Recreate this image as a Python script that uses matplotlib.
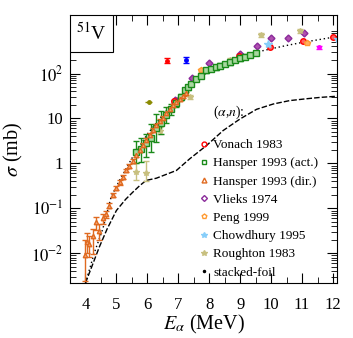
import matplotlib
matplotlib.use('Agg')
import matplotlib.pyplot as plt
from matplotlib.patches import Rectangle
import numpy as np

plt.rcParams['font.family'] = ['Liberation Serif', 'DejaVu Serif']
plt.rcParams['mathtext.fontset'] = 'stix'

# (alpha,gamma) model curve (dotted) and (alpha,n) curve (dashed)
ag_E = [4.0, 4.3, 4.56, 4.83, 5.1, 5.5, 6.0, 6.5, 7.0, 7.5, 8.0, 8.5, 9.0, 9.5, 10.0, 10.5, 11.0, 11.5, 12.0, 12.2]
ag_s = [0.0022, 0.011, 0.035, 0.18, 0.42, 1.3, 4.5, 12, 30, 62, 115, 175, 235, 295, 355, 420, 490, 560, 640, 670]
an_E = [4.0, 4.2, 4.45, 4.7, 5.0, 5.3, 5.53, 5.75, 5.96, 6.29, 6.94, 7.37, 7.91, 8.45, 9.0, 9.53, 10.07, 10.6, 11.15, 11.6, 12.2]
an_s = [0.0022, 0.005, 0.014, 0.035, 0.09, 0.16, 0.23, 0.32, 0.42, 0.47, 0.7, 1.27, 2.5, 5.4, 9.8, 16, 21, 25, 27.5, 29.5, 31.5]

# Hansper 1993 (dir.)
hd_E = [3.97, 4.05, 4.13, 4.24, 4.34, 4.45, 4.56, 4.67, 4.77, 4.88, 4.99, 5.10, 5.21, 5.31, 5.42,
        5.53, 5.64, 5.75, 5.86, 5.97, 6.07, 6.18, 6.29, 6.40, 6.50, 6.61, 6.72, 6.83, 6.94, 7.04, 7.15, 7.26]
hd_s = [0.009, 0.018, 0.016, 0.025, 0.05, 0.032, 0.062, 0.075, 0.115, 0.2, 0.29, 0.38, 0.5, 0.7, 0.9,
        1.15, 1.55, 2.0, 2.6, 3.3, 4.3, 5.5, 7.0, 8.7, 10.5, 13, 16, 19.5, 23, 27, 31, 36]
hd_lo = [0.0024, 0.01, 0.0085, 0.0095, 0.033, 0.02, 0.045, 0.06, 0.1, 0.18, 0.26, 0.34, 0.45, 0.63, 0.81,
         1.04, 1.4, 1.8, 2.35, 3.0, 3.9, 5.0, 6.3, 7.8, 9.5, 11.7, 14.4, 17.6, 20.7, 24.3, 27.9, 32.4]
hd_hi = [0.02, 0.028, 0.024, 0.035, 0.065, 0.045, 0.075, 0.09, 0.13, 0.22, 0.32, 0.42, 0.55, 0.77, 0.99,
         1.27, 1.7, 2.2, 2.85, 3.6, 4.7, 6.0, 7.7, 9.6, 11.5, 14.3, 17.6, 21.5, 25.3, 29.7, 34.1, 39.6]

# Hansper 1993 (act.)
ha_E = [5.64, 5.80, 5.96, 6.13, 6.29, 6.45, 6.61, 6.77, 6.94, 7.10, 7.21, 7.31, 7.42, 7.58, 7.75, 7.91,
        8.07, 8.23, 8.34, 8.50, 8.66, 8.83, 8.99, 9.15, 9.31, 9.51]
ha_s = [1.8, 2.1, 2.9, 3.6, 6.0, 8.0, 12, 16, 22, 30, 42, 50, 59, 76, 90, 117,
        127, 138, 150, 164, 178, 202, 219, 238, 259, 288]
ha_lo = [1.0, 1.1, 1.4, 1.8, 3.0, 4.5, 8, 12, 18, 26, 37, 44, 52, 67, 79, 103,
         112, 121, 132, 144, 157, 178, 193, 209, 228, 253]
ha_hi = [3.1, 3.6, 4.5, 7.5, 12.5, 15, 18, 21, 27, 35, 47, 56, 66, 85, 101, 131,
         142, 155, 168, 184, 199, 226, 245, 267, 290, 323]

vo_E = [6.85, 8.97, 9.96, 11.02, 12.0]
vo_s = [25, 251, 398, 537, 660]
vl_E = [6.88, 7.45, 7.99, 8.99, 9.53, 10.01, 10.55, 11.07]
vl_s = [26, 78, 167, 275, 404, 611, 611, 778]
pe_E = [7.75, 11.15]
pe_s = [120, 480]
ch_E = [9.9, 12.17]
ch_s = [458, 578]
ro_E = [5.64, 5.96, 6.40, 7.37, 8.66, 9.66, 10.93]
ro_s = [0.65, 0.62, 5.4, 30, 202, 727, 875]
ro_lo = [0.42, 0.40, 4.5, 27, 185, 650, 780]
ro_hi = [1.0, 1.15, 6.5, 34, 220, 810, 990]

# other single points
x_E = [6.63, 7.24, 11.55, 6.04]
x_s = [194, 202, 384, 23]
x_lo = [172, 172, 355, 23]
x_hi = [218, 238, 415, 23]
x_col = ['red', 'blue', 'magenta', '#8a8a00']

fig = plt.figure(figsize=(3.53, 3.38), dpi=100)
ax = fig.add_axes([70/353, 55/338, 267/353, 268/338])

ax.plot(ag_E, ag_s, color='black', ls=(0, (1, 2)), lw=1.0)
ax.plot(an_E, an_s, color='black', ls=(0, (4, 1.5)), lw=1.0)

for e, s, lo, hi, c in zip(x_E, x_s, x_lo, x_hi, x_col):
    if c == '#8a8a00':
        ax.errorbar([e], [s], xerr=[[0.12], [0.12]], fmt='o', ms=2.5, color=c, elinewidth=1, capsize=0)
    else:
        ax.errorbar([e], [s], yerr=[[s - lo], [hi - s]], fmt='o', ms=2.5, color=c, elinewidth=1, capsize=2)

ax.errorbar(ro_E, ro_s, yerr=[np.array(ro_s) - np.array(ro_lo), np.array(ro_hi) - np.array(ro_s)],
            fmt='*', ms=4, color='#c8c080', elinewidth=1, capsize=2)
ax.errorbar(ha_E, ha_s, yerr=[np.array(ha_s) - np.array(ha_lo), np.array(ha_hi) - np.array(ha_s)],
            fmt='s', ms=4.5, mfc='#a8d8a0', mec='#1a8a1a', color='#1a8a1a', elinewidth=1, capsize=2)
ax.errorbar(hd_E, hd_s, yerr=[np.array(hd_s) - np.array(hd_lo), np.array(hd_hi) - np.array(hd_s)],
            fmt='^', ms=3.2, mfc='#f0a070', mec='#e06a20', color='#e06a20', elinewidth=1, capsize=2)
ax.plot(vl_E, vl_s, 'D', ms=3.5, mfc='#b050b0', mec='#8a2a9a', ls='none')
ax.plot(vo_E, vo_s, 'o', ms=4, mfc='#ff6060', mec='red', ls='none')
ax.plot(pe_E, pe_s, 'p', ms=4, mfc='#ffb060', mec='#ff9a30', ls='none')
ax.plot(ch_E, ch_s, '*', ms=6, color='#87cefa', ls='none')

# legend handles
ax.plot([], [], 'o', ms=3.5, mfc='none', mec='red', label='Vonach 1983')
ax.plot([], [], 's', ms=3.5, mfc='none', mec='#1a8a1a', label='Hansper 1993 (act.)')
ax.plot([], [], '^', ms=3.5, mfc='none', mec='#e06a20', label='Hansper 1993 (dir.)')
ax.plot([], [], 'D', ms=3, mfc='none', mec='#8a2a9a', label='Vlieks 1974')
ax.plot([], [], 'p', ms=3.5, mfc='none', mec='#ff9a30', label='Peng 1999')
ax.plot([], [], '*', ms=4, color='#87cefa', label='Chowdhury 1995')
ax.plot([], [], '*', ms=4, color='#c8c080', label='Roughton 1983')
ax.plot([], [], '.', ms=3, color='black', label='stacked-foil')

ax.set_yscale('log')
ax.set_xlim(3.5, 12.13)
ax.set_ylim(0.0022, 2000)
ax.set_xticks(range(4, 13))
ax.set_xticks(np.arange(3.5, 12.1, 0.5), minor=True)
ax.set_yticks([0.01, 0.1, 1, 10, 100])
ax.set_yticklabels(['$10^{-2}$', '$10^{-1}$', '1', '10', '$10^{2}$'])
ax.tick_params(which='both', direction='in', top=True, right=True, labelsize=12)
ax.tick_params(which='major', length=7.5)
ax.tick_params(which='minor', length=4.5)
ax.tick_params(axis='x', pad=10)
ax.tick_params(axis='y', pad=5)
ax.set_xlabel(r'$E_\alpha$ (MeV)', fontsize=14.5, labelpad=0)
ax.set_ylabel(r'$\sigma$ (mb)', fontsize=14.5, labelpad=4)

ax.add_patch(Rectangle((0, 1 - 37/268), 43/267, 37/268, transform=ax.transAxes,
                       fc='white', ec='black', lw=0.8, zorder=5))
ax.text(21.5/267, 1 - 18.5/268, r'$^{51}$V', transform=ax.transAxes, ha='center', va='center',
        fontsize=14, zorder=6)
fig.text(213/353, 1 - 112/338, r'($\alpha$,$n$):', fontsize=9.8, va='center')

ax.legend(loc='upper left', frameon=False, fontsize=9.5, handlelength=0.6, handletextpad=0.38,
          labelspacing=0.45, borderpad=0.4, borderaxespad=0,
          bbox_to_anchor=(194.8/353, 1 - 133.8/338), bbox_transform=fig.transFigure)

fig.savefig('out.png', dpi=100)
